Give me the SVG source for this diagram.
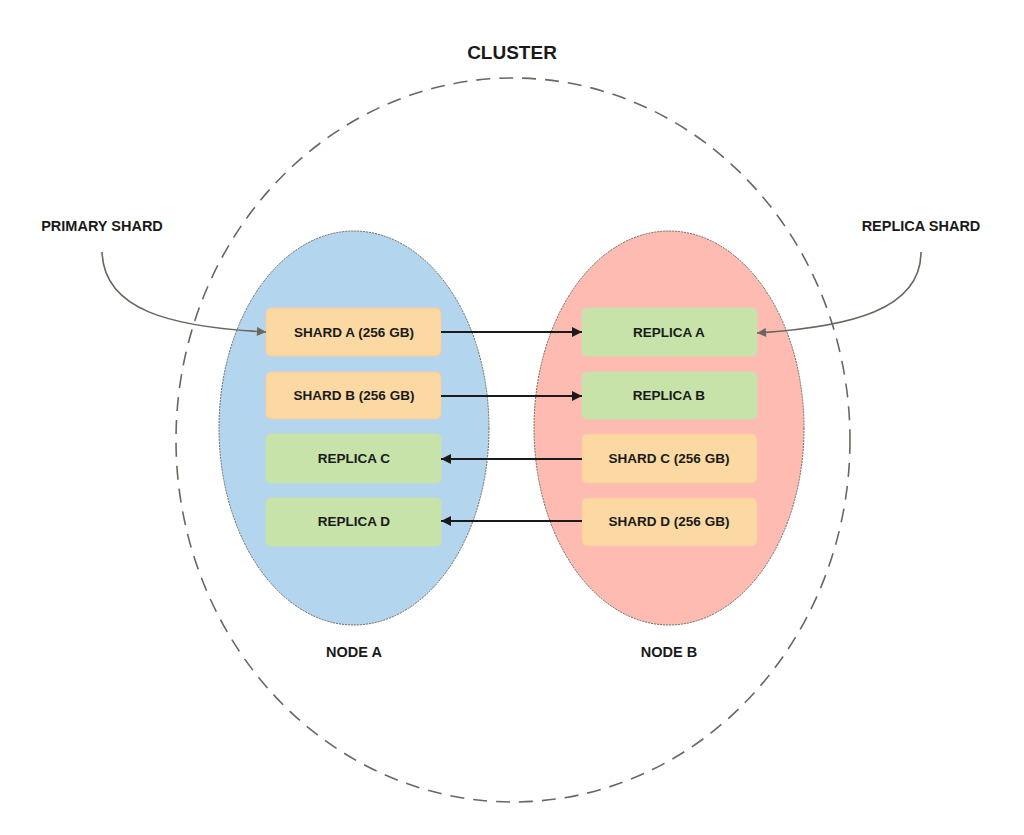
<svg xmlns="http://www.w3.org/2000/svg" width="1024" height="835" viewBox="0 0 1024 835">
<defs>
<style>
.lbl{font-family:"Liberation Sans",Arial,sans-serif;font-weight:bold;fill:#1a1a1a;text-anchor:middle;dominant-baseline:central}
.box{font-size:13.5px}
.big{font-size:14.5px}
.shard{fill:#fcd9a3;stroke:#f9c9a6;stroke-width:1}
.rep{fill:#c7e3a9;stroke:#c7e3a9;stroke-width:1}
.conn{stroke:#1a1a1a;stroke-width:2;fill:none}
.curve{stroke:#6b675e;stroke-width:1.6;fill:none}
</style>
<marker id="ah" viewBox="0 0 10 10" refX="10" refY="5" markerWidth="12" markerHeight="10" markerUnits="userSpaceOnUse" orient="auto">
<path d="M0,0 L10,5 L0,10 Z" fill="#1a1a1a"/>
</marker>
<marker id="ahg" viewBox="0 0 10 10" refX="10" refY="5" markerWidth="12" markerHeight="9" markerUnits="userSpaceOnUse" orient="auto">
<path d="M0,0 L10,5 L0,10 Z" fill="#6b675e"/>
</marker>
</defs>
<rect width="1024" height="835" fill="#ffffff"/>
<g id="cluster">
<ellipse cx="513" cy="440" rx="337" ry="362" fill="none" stroke="#6b675e" stroke-width="1.6" stroke-dasharray="14,9"/>
<text class="lbl" x="512" y="52" font-size="19">CLUSTER</text>
</g>
<g id="nodeA">
<ellipse cx="354" cy="428" rx="135" ry="197" fill="#b3d6ee" stroke="#6b675e" stroke-width="1" stroke-dasharray="2,1"/>
<text class="lbl big" x="354" y="652">NODE A</text>
</g>
<g id="nodeB">
<ellipse cx="669" cy="428" rx="135" ry="197" fill="#fdbbb2" stroke="#6b675e" stroke-width="1" stroke-dasharray="2,1"/>
<text class="lbl big" x="669" y="652">NODE B</text>
</g>
<g id="shardA">
<rect class="shard" x="266" y="308" width="175" height="48" rx="5"/>
<text class="lbl box" x="354" y="332">SHARD A (256 GB)</text>
</g>
<g id="shardB">
<rect class="shard" x="266" y="372" width="175" height="47" rx="5"/>
<text class="lbl box" x="354" y="395">SHARD B (256 GB)</text>
</g>
<g id="replicaC">
<rect class="rep" x="266" y="434" width="175" height="49" rx="5"/>
<text class="lbl box" x="354" y="458">REPLICA C</text>
</g>
<g id="replicaD">
<rect class="rep" x="266" y="498" width="175" height="48" rx="5"/>
<text class="lbl box" x="354" y="521">REPLICA D</text>
</g>
<g id="replicaA">
<rect class="rep" x="582" y="308" width="175" height="48" rx="5"/>
<text class="lbl box" x="669" y="332">REPLICA A</text>
</g>
<g id="replicaB">
<rect class="rep" x="582" y="372" width="175" height="47" rx="5"/>
<text class="lbl box" x="669" y="395">REPLICA B</text>
</g>
<g id="shardC">
<rect class="shard" x="582" y="434" width="175" height="49" rx="5"/>
<text class="lbl box" x="669" y="458">SHARD C (256 GB)</text>
</g>
<g id="shardD">
<rect class="shard" x="582" y="498" width="175" height="48" rx="5"/>
<text class="lbl box" x="669" y="521">SHARD D (256 GB)</text>
</g>
<g id="primaryLabel">
<text class="lbl big" x="102" y="226">PRIMARY SHARD</text>
</g>
<g id="replicaLabel">
<text class="lbl big" x="921" y="226">REPLICA SHARD</text>
</g>
<g id="connectors">
<line class="conn" x1="441" y1="332" x2="582" y2="332" marker-end="url(#ah)"/>
<line class="conn" x1="441" y1="396" x2="582" y2="396" marker-end="url(#ah)"/>
<line class="conn" x1="582" y1="459" x2="441" y2="459" marker-end="url(#ah)"/>
<line class="conn" x1="582" y1="521" x2="441" y2="521" marker-end="url(#ah)"/>
<path class="curve" d="M102,252 C104,310 170,327 266,332" marker-end="url(#ahg)"/>
<path class="curve" d="M921,252 C921,310 850,327 757,333" marker-end="url(#ahg)"/>
</g>
</svg>
